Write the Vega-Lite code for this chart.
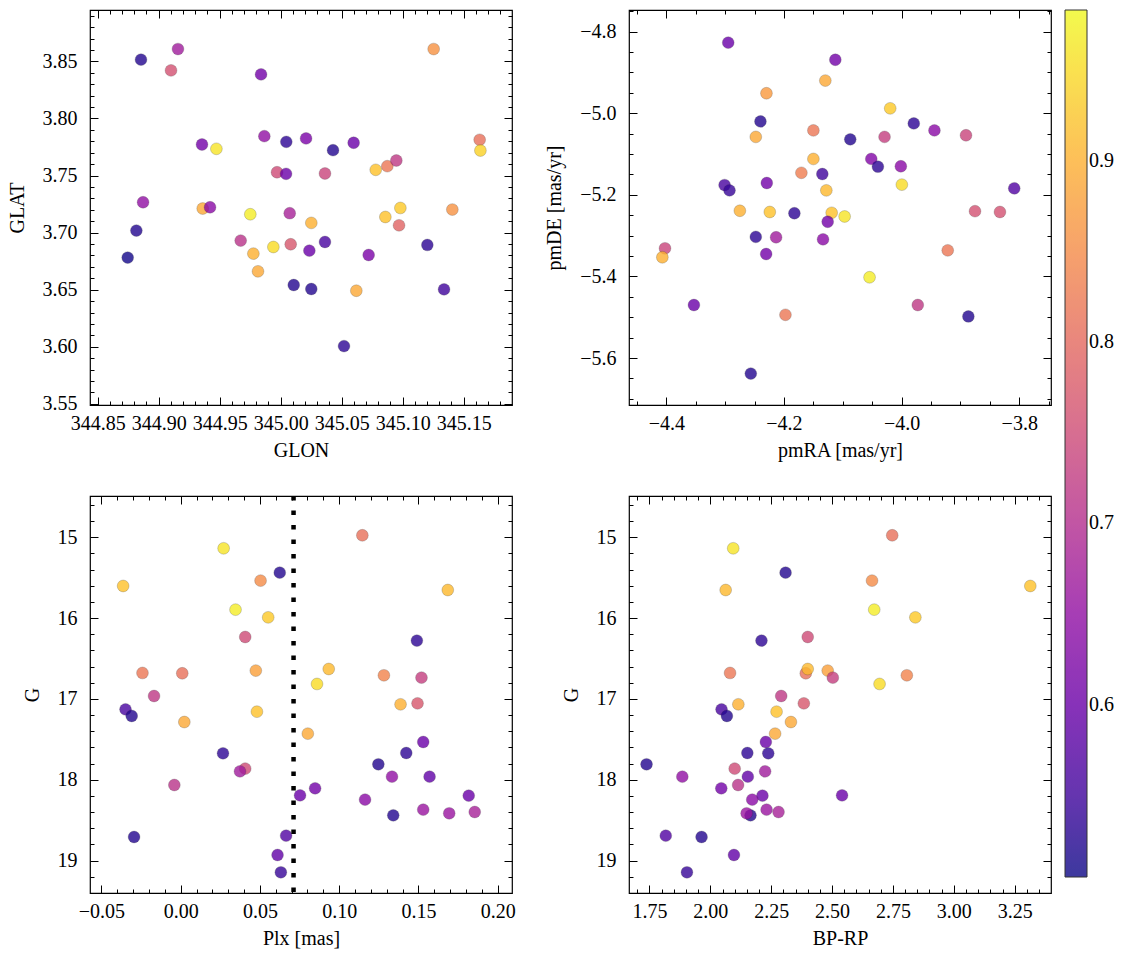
{
  "$schema": "https://vega.github.io/schema/vega-lite/v6.json",
  "background": "white",
  "padding": {"left": 6, "top": 8, "right": 0, "bottom": 0},
  "datasets": {
    "sky": [
      {"GLON": 344.8855, "GLAT": 3.8515, "p": 0.52},
      {"GLON": 344.9158, "GLAT": 3.8608, "p": 0.67},
      {"GLON": 344.9101, "GLAT": 3.8421, "p": 0.76},
      {"GLON": 344.9839, "GLAT": 3.8386, "p": 0.61},
      {"GLON": 345.1254, "GLAT": 3.8608, "p": 0.86},
      {"GLON": 344.9355, "GLAT": 3.7772, "p": 0.61},
      {"GLON": 344.9473, "GLAT": 3.7734, "p": 0.96},
      {"GLON": 344.9866, "GLAT": 3.7845, "p": 0.65},
      {"GLON": 345.0046, "GLAT": 3.7795, "p": 0.53},
      {"GLON": 345.0208, "GLAT": 3.7825, "p": 0.62},
      {"GLON": 345.0429, "GLAT": 3.7722, "p": 0.52},
      {"GLON": 345.0598, "GLAT": 3.7787, "p": 0.60},
      {"GLON": 345.1631, "GLAT": 3.7813, "p": 0.81},
      {"GLON": 345.1637, "GLAT": 3.7719, "p": 0.94},
      {"GLON": 344.9970, "GLAT": 3.7529, "p": 0.75},
      {"GLON": 345.0044, "GLAT": 3.7515, "p": 0.60},
      {"GLON": 345.0363, "GLAT": 3.7518, "p": 0.74},
      {"GLON": 345.0779, "GLAT": 3.7550, "p": 0.92},
      {"GLON": 345.0874, "GLAT": 3.7582, "p": 0.82},
      {"GLON": 345.0948, "GLAT": 3.7632, "p": 0.72},
      {"GLON": 344.8872, "GLAT": 3.7266, "p": 0.65},
      {"GLON": 344.9361, "GLAT": 3.7211, "p": 0.89},
      {"GLON": 344.9421, "GLAT": 3.7222, "p": 0.64},
      {"GLON": 344.9751, "GLAT": 3.7161, "p": 0.97},
      {"GLON": 345.0074, "GLAT": 3.7170, "p": 0.68},
      {"GLON": 345.0251, "GLAT": 3.7085, "p": 0.90},
      {"GLON": 345.0981, "GLAT": 3.7216, "p": 0.93},
      {"GLON": 345.0858, "GLAT": 3.7137, "p": 0.92},
      {"GLON": 345.0970, "GLAT": 3.7064, "p": 0.79},
      {"GLON": 345.1407, "GLAT": 3.7202, "p": 0.86},
      {"GLON": 344.8817, "GLAT": 3.7018, "p": 0.52},
      {"GLON": 344.8746, "GLAT": 3.6781, "p": 0.51},
      {"GLON": 344.9672, "GLAT": 3.6930, "p": 0.71},
      {"GLON": 344.9940, "GLAT": 3.6874, "p": 0.95},
      {"GLON": 344.9776, "GLAT": 3.6816, "p": 0.90},
      {"GLON": 345.0082, "GLAT": 3.6898, "p": 0.77},
      {"GLON": 345.0235, "GLAT": 3.6842, "p": 0.60},
      {"GLON": 345.0363, "GLAT": 3.6918, "p": 0.56},
      {"GLON": 345.0721, "GLAT": 3.6804, "p": 0.62},
      {"GLON": 345.1202, "GLAT": 3.6892, "p": 0.53},
      {"GLON": 344.9814, "GLAT": 3.6661, "p": 0.89},
      {"GLON": 345.0107, "GLAT": 3.6541, "p": 0.52},
      {"GLON": 345.0251, "GLAT": 3.6506, "p": 0.52},
      {"GLON": 345.0620, "GLAT": 3.6491, "p": 0.89},
      {"GLON": 345.1339, "GLAT": 3.6503, "p": 0.55},
      {"GLON": 345.0519, "GLAT": 3.6006, "p": 0.53}
    ],
    "pm": [
      {"pmRA": -4.2948, "pmDE": -4.827, "p": 0.60},
      {"pmRA": -4.1127, "pmDE": -4.869, "p": 0.61},
      {"pmRA": -4.1297, "pmDE": -4.920, "p": 0.89},
      {"pmRA": -4.2298, "pmDE": -4.951, "p": 0.87},
      {"pmRA": -4.0194, "pmDE": -4.988, "p": 0.93},
      {"pmRA": -4.2400, "pmDE": -5.020, "p": 0.52},
      {"pmRA": -3.9793, "pmDE": -5.025, "p": 0.53},
      {"pmRA": -3.9442, "pmDE": -5.042, "p": 0.64},
      {"pmRA": -3.8905, "pmDE": -5.054, "p": 0.74},
      {"pmRA": -4.1500, "pmDE": -5.042, "p": 0.82},
      {"pmRA": -4.2479, "pmDE": -5.058, "p": 0.89},
      {"pmRA": -4.0873, "pmDE": -5.064, "p": 0.52},
      {"pmRA": -4.0290, "pmDE": -5.058, "p": 0.73},
      {"pmRA": -4.1500, "pmDE": -5.112, "p": 0.90},
      {"pmRA": -4.0516, "pmDE": -5.112, "p": 0.63},
      {"pmRA": -4.0403, "pmDE": -5.131, "p": 0.53},
      {"pmRA": -4.0013, "pmDE": -5.130, "p": 0.64},
      {"pmRA": -4.1704, "pmDE": -5.146, "p": 0.83},
      {"pmRA": -4.1348, "pmDE": -5.149, "p": 0.55},
      {"pmRA": -4.3010, "pmDE": -5.176, "p": 0.56},
      {"pmRA": -4.2926, "pmDE": -5.189, "p": 0.54},
      {"pmRA": -4.2292, "pmDE": -5.171, "p": 0.61},
      {"pmRA": -4.1280, "pmDE": -5.189, "p": 0.91},
      {"pmRA": -3.9996, "pmDE": -5.175, "p": 0.95},
      {"pmRA": -3.8085, "pmDE": -5.184, "p": 0.57},
      {"pmRA": -4.2750, "pmDE": -5.239, "p": 0.90},
      {"pmRA": -4.2241, "pmDE": -5.242, "p": 0.92},
      {"pmRA": -4.1823, "pmDE": -5.245, "p": 0.53},
      {"pmRA": -4.1189, "pmDE": -5.244, "p": 0.92},
      {"pmRA": -4.0969, "pmDE": -5.253, "p": 0.96},
      {"pmRA": -4.1257, "pmDE": -5.266, "p": 0.61},
      {"pmRA": -3.8752, "pmDE": -5.240, "p": 0.76},
      {"pmRA": -3.8328, "pmDE": -5.242, "p": 0.76},
      {"pmRA": -4.2479, "pmDE": -5.303, "p": 0.53},
      {"pmRA": -4.2134, "pmDE": -5.304, "p": 0.67},
      {"pmRA": -4.1336, "pmDE": -5.309, "p": 0.64},
      {"pmRA": -4.2303, "pmDE": -5.345, "p": 0.61},
      {"pmRA": -4.4023, "pmDE": -5.331, "p": 0.74},
      {"pmRA": -4.4068, "pmDE": -5.353, "p": 0.90},
      {"pmRA": -3.9216, "pmDE": -5.336, "p": 0.82},
      {"pmRA": -4.0545, "pmDE": -5.402, "p": 0.97},
      {"pmRA": -4.3531, "pmDE": -5.470, "p": 0.60},
      {"pmRA": -4.1975, "pmDE": -5.494, "p": 0.82},
      {"pmRA": -3.9725, "pmDE": -5.470, "p": 0.72},
      {"pmRA": -3.8865, "pmDE": -5.498, "p": 0.52},
      {"pmRA": -4.2564, "pmDE": -5.638, "p": 0.52}
    ],
    "phot": [
      {"Plx": 0.1146, "G": 14.975, "BPRP": 2.747, "p": 0.81},
      {"Plx": 0.0271, "G": 15.136, "BPRP": 2.094, "p": 0.96},
      {"Plx": 0.0625, "G": 15.437, "BPRP": 2.309, "p": 0.52},
      {"Plx": 0.0504, "G": 15.536, "BPRP": 2.664, "p": 0.85},
      {"Plx": -0.0363, "G": 15.602, "BPRP": 3.314, "p": 0.92},
      {"Plx": 0.1685, "G": 15.652, "BPRP": 2.063, "p": 0.91},
      {"Plx": 0.0346, "G": 15.895, "BPRP": 2.673, "p": 0.97},
      {"Plx": 0.0552, "G": 15.990, "BPRP": 2.842, "p": 0.93},
      {"Plx": 0.0407, "G": 16.233, "BPRP": 2.400, "p": 0.75},
      {"Plx": 0.1490, "G": 16.278, "BPRP": 2.210, "p": 0.53},
      {"Plx": -0.0241, "G": 16.678, "BPRP": 2.081, "p": 0.82},
      {"Plx": 0.0010, "G": 16.682, "BPRP": 2.392, "p": 0.81},
      {"Plx": 0.0474, "G": 16.649, "BPRP": 2.482, "p": 0.88},
      {"Plx": 0.0934, "G": 16.629, "BPRP": 2.400, "p": 0.91},
      {"Plx": 0.1282, "G": 16.707, "BPRP": 2.807, "p": 0.84},
      {"Plx": 0.1519, "G": 16.736, "BPRP": 2.503, "p": 0.73},
      {"Plx": 0.0860, "G": 16.814, "BPRP": 2.695, "p": 0.95},
      {"Plx": -0.0168, "G": 16.963, "BPRP": 2.291, "p": 0.72},
      {"Plx": 0.1387, "G": 17.066, "BPRP": 2.115, "p": 0.90},
      {"Plx": 0.1494, "G": 17.054, "BPRP": 2.384, "p": 0.77},
      {"Plx": -0.0348, "G": 17.128, "BPRP": 2.046, "p": 0.56},
      {"Plx": -0.0309, "G": 17.210, "BPRP": 2.068, "p": 0.52},
      {"Plx": 0.0481, "G": 17.157, "BPRP": 2.272, "p": 0.92},
      {"Plx": 0.0023, "G": 17.285, "BPRP": 2.331, "p": 0.89},
      {"Plx": 0.0802, "G": 17.429, "BPRP": 2.266, "p": 0.89},
      {"Plx": 0.1530, "G": 17.532, "BPRP": 2.228, "p": 0.60},
      {"Plx": 0.0267, "G": 17.672, "BPRP": 2.238, "p": 0.53},
      {"Plx": 0.1423, "G": 17.668, "BPRP": 2.152, "p": 0.53},
      {"Plx": 0.1247, "G": 17.808, "BPRP": 1.738, "p": 0.52},
      {"Plx": 0.0407, "G": 17.862, "BPRP": 2.100, "p": 0.75},
      {"Plx": 0.0374, "G": 17.895, "BPRP": 2.225, "p": 0.67},
      {"Plx": 0.1333, "G": 17.961, "BPRP": 1.885, "p": 0.65},
      {"Plx": 0.1570, "G": 17.961, "BPRP": 2.154, "p": 0.59},
      {"Plx": -0.0040, "G": 18.064, "BPRP": 2.114, "p": 0.71},
      {"Plx": 0.0848, "G": 18.105, "BPRP": 2.045, "p": 0.61},
      {"Plx": 0.0753, "G": 18.192, "BPRP": 2.541, "p": 0.60},
      {"Plx": 0.1817, "G": 18.196, "BPRP": 2.214, "p": 0.60},
      {"Plx": 0.1163, "G": 18.245, "BPRP": 2.172, "p": 0.64},
      {"Plx": 0.1530, "G": 18.369, "BPRP": 2.231, "p": 0.66},
      {"Plx": 0.1341, "G": 18.439, "BPRP": 2.165, "p": 0.52},
      {"Plx": 0.1694, "G": 18.414, "BPRP": 2.149, "p": 0.66},
      {"Plx": 0.1855, "G": 18.398, "BPRP": 2.280, "p": 0.68},
      {"Plx": -0.0294, "G": 18.707, "BPRP": 1.964, "p": 0.52},
      {"Plx": 0.0665, "G": 18.691, "BPRP": 1.817, "p": 0.57},
      {"Plx": 0.0611, "G": 18.930, "BPRP": 2.097, "p": 0.59},
      {"Plx": 0.0632, "G": 19.144, "BPRP": 1.904, "p": 0.54}
    ],
    "cut": [{"Plx_cut": 0.0712}]
  },
  "columns": 2,
  "spacing": {"row": 91, "column": 117},
  "bounds": "flush",
  "concat": [
    {
      "width": 422, "height": 395,
      "data": {"name": "sky"},
      "resolve": {"axis": {"x": "independent", "y": "independent"}},
      "layer": [
        {
          "mark": {"type": "circle", "size": 140, "opacity": 0.8, "stroke": "#222222", "strokeWidth": 0.5, "strokeOpacity": 0.5},
          "encoding": {
            "x": {"field": "GLON", "type": "quantitative", "scale": {"domain": [344.8437, 345.1896], "nice": false, "zero": false},
                  "axis": {"orient": "bottom", "title": "GLON", "format": ".2f", "tickSize": -8, "values": [344.85, 344.9, 344.95, 345, 345.05, 345.1, 345.15]}},
            "y": {"field": "GLAT", "type": "quantitative", "scale": {"domain": [3.549, 3.895], "nice": false, "zero": false},
                  "axis": {"orient": "left", "title": "GLAT", "format": ".2f", "tickSize": -8, "values": [3.55, 3.6, 3.65, 3.7, 3.75, 3.8, 3.85]}},
            "color": {"field": "p", "type": "quantitative", "scale": {"scheme": "plasma", "domain": [0.505, 0.983]}, "legend": {"values": [0.6, 0.7, 0.8, 0.9], "format": ".1f", "title": null}}
          }
        },
        {
          "mark": {"type": "point", "opacity": 0},
          "encoding": {
            "x": {"field": "GLON", "type": "quantitative", "scale": {"domain": [344.8437, 345.1896], "nice": false, "zero": false},
                  "axis": {"orient": "top", "title": null, "labels": false, "tickSize": -8, "values": [344.85, 344.9, 344.95, 345, 345.05, 345.1, 345.15]}},
            "y": {"field": "GLAT", "type": "quantitative", "scale": {"domain": [3.549, 3.895], "nice": false, "zero": false},
                  "axis": {"orient": "right", "title": null, "labels": false, "tickSize": -8, "values": [3.55, 3.6, 3.65, 3.7, 3.75, 3.8, 3.85]}}
          }
        },
        {
          "mark": {"type": "point", "opacity": 0},
          "encoding": {
            "x": {"field": "GLON", "type": "quantitative", "scale": {"domain": [344.8437, 345.1896], "nice": false, "zero": false},
                  "axis": {"orient": "bottom", "title": null, "labels": false, "tickSize": -4, "values": [344.86, 344.87, 344.88, 344.89, 344.91, 344.92, 344.93, 344.94, 344.96, 344.97, 344.98, 344.99, 345.01, 345.02, 345.03, 345.04, 345.06, 345.07, 345.08, 345.09, 345.11, 345.12, 345.13, 345.14, 345.16, 345.17, 345.18]}},
            "y": {"field": "GLAT", "type": "quantitative", "scale": {"domain": [3.549, 3.895], "nice": false, "zero": false},
                  "axis": {"orient": "left", "title": null, "labels": false, "tickSize": -4, "values": [3.56, 3.57, 3.58, 3.59, 3.61, 3.62, 3.63, 3.64, 3.66, 3.67, 3.68, 3.69, 3.71, 3.72, 3.73, 3.74, 3.76, 3.77, 3.78, 3.79, 3.81, 3.82, 3.83, 3.84, 3.86, 3.87, 3.88, 3.89]}}
          }
        },
        {
          "mark": {"type": "point", "opacity": 0},
          "encoding": {
            "x": {"field": "GLON", "type": "quantitative", "scale": {"domain": [344.8437, 345.1896], "nice": false, "zero": false},
                  "axis": {"orient": "top", "title": null, "labels": false, "tickSize": -4, "values": [344.86, 344.87, 344.88, 344.89, 344.91, 344.92, 344.93, 344.94, 344.96, 344.97, 344.98, 344.99, 345.01, 345.02, 345.03, 345.04, 345.06, 345.07, 345.08, 345.09, 345.11, 345.12, 345.13, 345.14, 345.16, 345.17, 345.18]}},
            "y": {"field": "GLAT", "type": "quantitative", "scale": {"domain": [3.549, 3.895], "nice": false, "zero": false},
                  "axis": {"orient": "right", "title": null, "labels": false, "tickSize": -4, "values": [3.56, 3.57, 3.58, 3.59, 3.61, 3.62, 3.63, 3.64, 3.66, 3.67, 3.68, 3.69, 3.71, 3.72, 3.73, 3.74, 3.76, 3.77, 3.78, 3.79, 3.81, 3.82, 3.83, 3.84, 3.86, 3.87, 3.88, 3.89]}}
          }
        }
      ]
    },
    {
      "width": 422, "height": 395,
      "data": {"name": "pm"},
      "resolve": {"axis": {"x": "independent", "y": "independent"}},
      "layer": [
        {
          "mark": {"type": "circle", "size": 140, "opacity": 0.8, "stroke": "#222222", "strokeWidth": 0.5, "strokeOpacity": 0.5},
          "encoding": {
            "x": {"field": "pmRA", "type": "quantitative", "scale": {"domain": [-4.4635, -3.746], "nice": false, "zero": false},
                  "axis": {"orient": "bottom", "title": "pmRA [mas/yr]", "format": ".1f", "tickSize": -8, "values": [-4.4, -4.2, -4.0, -3.8]}},
            "y": {"field": "pmDE", "type": "quantitative", "scale": {"domain": [-5.715, -4.747], "nice": false, "zero": false},
                  "axis": {"orient": "left", "title": "pmDE [mas/yr]", "format": ".1f", "tickSize": -8, "values": [-5.6, -5.4, -5.2, -5.0, -4.8]}},
            "color": {"field": "p", "type": "quantitative", "scale": {"scheme": "plasma", "domain": [0.505, 0.983]}, "legend": {"values": [0.6, 0.7, 0.8, 0.9], "format": ".1f", "title": null}}
          }
        },
        {
          "mark": {"type": "point", "opacity": 0},
          "encoding": {
            "x": {"field": "pmRA", "type": "quantitative", "scale": {"domain": [-4.4635, -3.746], "nice": false, "zero": false},
                  "axis": {"orient": "top", "title": null, "labels": false, "tickSize": -8, "values": [-4.4, -4.2, -4.0, -3.8]}},
            "y": {"field": "pmDE", "type": "quantitative", "scale": {"domain": [-5.715, -4.747], "nice": false, "zero": false},
                  "axis": {"orient": "right", "title": null, "labels": false, "tickSize": -8, "values": [-5.6, -5.4, -5.2, -5.0, -4.8]}}
          }
        },
        {
          "mark": {"type": "point", "opacity": 0},
          "encoding": {
            "x": {"field": "pmRA", "type": "quantitative", "scale": {"domain": [-4.4635, -3.746], "nice": false, "zero": false},
                  "axis": {"orient": "bottom", "title": null, "labels": false, "tickSize": -4, "values": [-4.45, -4.35, -4.3, -4.25, -4.15, -4.1, -4.05, -3.95, -3.9, -3.85, -3.75]}},
            "y": {"field": "pmDE", "type": "quantitative", "scale": {"domain": [-5.715, -4.747], "nice": false, "zero": false},
                  "axis": {"orient": "left", "title": null, "labels": false, "tickSize": -4, "values": [-5.7, -5.65, -5.55, -5.5, -5.45, -5.35, -5.3, -5.25, -5.15, -5.1, -5.05, -4.95, -4.9, -4.85, -4.75]}}
          }
        },
        {
          "mark": {"type": "point", "opacity": 0},
          "encoding": {
            "x": {"field": "pmRA", "type": "quantitative", "scale": {"domain": [-4.4635, -3.746], "nice": false, "zero": false},
                  "axis": {"orient": "top", "title": null, "labels": false, "tickSize": -4, "values": [-4.45, -4.35, -4.3, -4.25, -4.15, -4.1, -4.05, -3.95, -3.9, -3.85, -3.75]}},
            "y": {"field": "pmDE", "type": "quantitative", "scale": {"domain": [-5.715, -4.747], "nice": false, "zero": false},
                  "axis": {"orient": "right", "title": null, "labels": false, "tickSize": -4, "values": [-5.7, -5.65, -5.55, -5.5, -5.45, -5.35, -5.3, -5.25, -5.15, -5.1, -5.05, -4.95, -4.9, -4.85, -4.75]}}
          }
        }
      ]
    },
    {
      "width": 422, "height": 397,
      "resolve": {"axis": {"x": "independent", "y": "independent"}},
      "layer": [
        {
          "data": {"name": "phot"},
          "mark": {"type": "circle", "size": 140, "opacity": 0.8, "stroke": "#222222", "strokeWidth": 0.5, "strokeOpacity": 0.5},
          "encoding": {
            "x": {"field": "Plx", "type": "quantitative", "scale": {"domain": [-0.0572, 0.209], "nice": false, "zero": false},
                  "axis": {"orient": "bottom", "title": "Plx [mas]", "format": ".2f", "tickSize": -8, "values": [-0.05, 0, 0.05, 0.1, 0.15, 0.2]}},
            "y": {"field": "G", "type": "quantitative", "scale": {"domain": [14.489, 19.4], "reverse": true, "nice": false, "zero": false},
                  "axis": {"orient": "left", "title": "G", "format": "d", "tickSize": -8, "values": [15, 16, 17, 18, 19]}},
            "color": {"field": "p", "type": "quantitative", "scale": {"scheme": "plasma", "domain": [0.505, 0.983]}, "legend": {"values": [0.6, 0.7, 0.8, 0.9], "format": ".1f", "title": null}}
          }
        },
        {
          "data": {"name": "phot"},
          "mark": {"type": "point", "opacity": 0},
          "encoding": {
            "x": {"field": "Plx", "type": "quantitative", "scale": {"domain": [-0.0572, 0.209], "nice": false, "zero": false},
                  "axis": {"orient": "top", "title": null, "labels": false, "tickSize": -8, "values": [-0.05, 0, 0.05, 0.1, 0.15, 0.2]}},
            "y": {"field": "G", "type": "quantitative", "scale": {"domain": [14.489, 19.4], "reverse": true, "nice": false, "zero": false},
                  "axis": {"orient": "right", "title": null, "labels": false, "tickSize": -8, "values": [15, 16, 17, 18, 19]}}
          }
        },
        {
          "data": {"name": "phot"},
          "mark": {"type": "point", "opacity": 0},
          "encoding": {
            "x": {"field": "Plx", "type": "quantitative", "scale": {"domain": [-0.0572, 0.209], "nice": false, "zero": false},
                  "axis": {"orient": "bottom", "title": null, "labels": false, "tickSize": -4, "values": [-0.04, -0.03, -0.02, -0.01, 0.01, 0.02, 0.03, 0.04, 0.06, 0.07, 0.08, 0.09, 0.11, 0.12, 0.13, 0.14, 0.16, 0.17, 0.18, 0.19]}},
            "y": {"field": "G", "type": "quantitative", "scale": {"domain": [14.489, 19.4], "reverse": true, "nice": false, "zero": false},
                  "axis": {"orient": "left", "title": null, "labels": false, "tickSize": -4, "values": [14.6, 14.8, 15.2, 15.4, 15.6, 15.8, 16.2, 16.4, 16.6, 16.8, 17.2, 17.4, 17.6, 17.8, 18.2, 18.4, 18.6, 18.8, 19.2]}}
          }
        },
        {
          "data": {"name": "phot"},
          "mark": {"type": "point", "opacity": 0},
          "encoding": {
            "x": {"field": "Plx", "type": "quantitative", "scale": {"domain": [-0.0572, 0.209], "nice": false, "zero": false},
                  "axis": {"orient": "top", "title": null, "labels": false, "tickSize": -4, "values": [-0.04, -0.03, -0.02, -0.01, 0.01, 0.02, 0.03, 0.04, 0.06, 0.07, 0.08, 0.09, 0.11, 0.12, 0.13, 0.14, 0.16, 0.17, 0.18, 0.19]}},
            "y": {"field": "G", "type": "quantitative", "scale": {"domain": [14.489, 19.4], "reverse": true, "nice": false, "zero": false},
                  "axis": {"orient": "right", "title": null, "labels": false, "tickSize": -4, "values": [14.6, 14.8, 15.2, 15.4, 15.6, 15.8, 16.2, 16.4, 16.6, 16.8, 17.2, 17.4, 17.6, 17.8, 18.2, 18.4, 18.6, 18.8, 19.2]}}
          }
        },
        {
          "data": {"name": "cut"},
          "mark": {"type": "rule", "color": "black", "strokeWidth": 4.5, "strokeDash": [4.5, 10], "strokeCap": "butt"},
          "encoding": {
            "x": {"field": "Plx_cut", "type": "quantitative", "scale": {"domain": [-0.0572, 0.209], "nice": false, "zero": false}, "axis": null}
          }
        }
      ]
    },
    {
      "width": 422, "height": 397,
      "data": {"name": "phot"},
      "resolve": {"axis": {"x": "independent", "y": "independent"}},
      "layer": [
        {
          "mark": {"type": "circle", "size": 140, "opacity": 0.8, "stroke": "#222222", "strokeWidth": 0.5, "strokeOpacity": 0.5},
          "encoding": {
            "x": {"field": "BPRP", "type": "quantitative", "scale": {"domain": [1.666, 3.399], "nice": false, "zero": false},
                  "axis": {"orient": "bottom", "title": "BP-RP", "format": ".2f", "tickSize": -8, "values": [1.75, 2, 2.25, 2.5, 2.75, 3, 3.25]}},
            "y": {"field": "G", "type": "quantitative", "scale": {"domain": [14.489, 19.4], "reverse": true, "nice": false, "zero": false},
                  "axis": {"orient": "left", "title": "G", "format": "d", "tickSize": -8, "values": [15, 16, 17, 18, 19]}},
            "color": {"field": "p", "type": "quantitative", "scale": {"scheme": "plasma", "domain": [0.505, 0.983]}, "legend": {"values": [0.6, 0.7, 0.8, 0.9], "format": ".1f", "title": null}}
          }
        },
        {
          "mark": {"type": "point", "opacity": 0},
          "encoding": {
            "x": {"field": "BPRP", "type": "quantitative", "scale": {"domain": [1.666, 3.399], "nice": false, "zero": false},
                  "axis": {"orient": "top", "title": null, "labels": false, "tickSize": -8, "values": [1.75, 2, 2.25, 2.5, 2.75, 3, 3.25]}},
            "y": {"field": "G", "type": "quantitative", "scale": {"domain": [14.489, 19.4], "reverse": true, "nice": false, "zero": false},
                  "axis": {"orient": "right", "title": null, "labels": false, "tickSize": -8, "values": [15, 16, 17, 18, 19]}}
          }
        },
        {
          "mark": {"type": "point", "opacity": 0},
          "encoding": {
            "x": {"field": "BPRP", "type": "quantitative", "scale": {"domain": [1.666, 3.399], "nice": false, "zero": false},
                  "axis": {"orient": "bottom", "title": null, "labels": false, "tickSize": -4, "values": [1.7, 1.8, 1.85, 1.9, 1.95, 2.05, 2.1, 2.15, 2.2, 2.3, 2.35, 2.4, 2.45, 2.55, 2.6, 2.65, 2.7, 2.8, 2.85, 2.9, 2.95, 3.05, 3.1, 3.15, 3.2, 3.3, 3.35]}},
            "y": {"field": "G", "type": "quantitative", "scale": {"domain": [14.489, 19.4], "reverse": true, "nice": false, "zero": false},
                  "axis": {"orient": "left", "title": null, "labels": false, "tickSize": -4, "values": [14.6, 14.8, 15.2, 15.4, 15.6, 15.8, 16.2, 16.4, 16.6, 16.8, 17.2, 17.4, 17.6, 17.8, 18.2, 18.4, 18.6, 18.8, 19.2]}}
          }
        },
        {
          "mark": {"type": "point", "opacity": 0},
          "encoding": {
            "x": {"field": "BPRP", "type": "quantitative", "scale": {"domain": [1.666, 3.399], "nice": false, "zero": false},
                  "axis": {"orient": "top", "title": null, "labels": false, "tickSize": -4, "values": [1.7, 1.8, 1.85, 1.9, 1.95, 2.05, 2.1, 2.15, 2.2, 2.3, 2.35, 2.4, 2.45, 2.55, 2.6, 2.65, 2.7, 2.8, 2.85, 2.9, 2.95, 3.05, 3.1, 3.15, 3.2, 3.3, 3.35]}},
            "y": {"field": "G", "type": "quantitative", "scale": {"domain": [14.489, 19.4], "reverse": true, "nice": false, "zero": false},
                  "axis": {"orient": "right", "title": null, "labels": false, "tickSize": -4, "values": [14.6, 14.8, 15.2, 15.4, 15.6, 15.8, 16.2, 16.4, 16.6, 16.8, 17.2, 17.4, 17.6, 17.8, 18.2, 18.4, 18.6, 18.8, 19.2]}}
          }
        }
      ]
    }
  ],
  "config": {
    "font": "Liberation Serif",
    "view": {"stroke": "black", "strokeWidth": 1.2},
    "axis": {
      "labelFont": "Liberation Serif", "labelFontSize": 20, "labelColor": "black",
      "titleFont": "Liberation Serif", "titleFontSize": 20, "titleFontWeight": "normal", "titleColor": "black",
      "domain": false, "grid": false, "tickColor": "black", "tickWidth": 1,
      "labelOverlap": false, "labelFlush": false, "labelBound": false
    },
    "axisX": {"labelPadding": 16, "titlePadding": 7},
    "axisY": {"labelPadding": 21, "titlePadding": 15},
    "legend": {
      "gradientLength": 867, "gradientThickness": 22,
      "labelFont": "Liberation Serif", "labelFontSize": 20, "labelColor": "black", "labelOffset": 11,
      "gradientStrokeColor": "black", "gradientStrokeWidth": 1, "gradientOpacity": 0.8,
      "offset": 12, "padding": 0, "labelOverlap": false
    }
  }
}
